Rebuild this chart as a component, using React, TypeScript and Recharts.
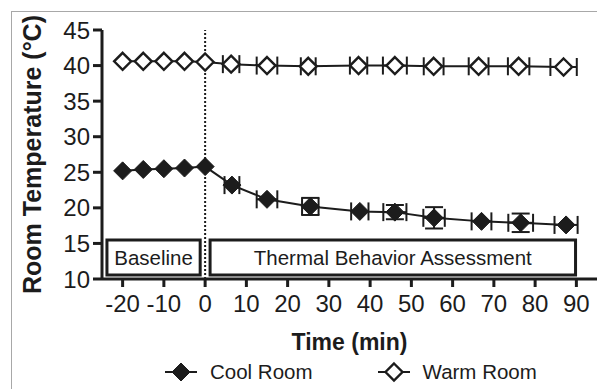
import {
  ScatterChart,
  Scatter,
  XAxis,
  YAxis,
  ErrorBar,
  ReferenceLine,
  ReferenceArea,
  Legend,
} from "recharts";

const FONT = '"Liberation Sans", Arial, sans-serif';
const INK = "#1c1c1c";

// cool room: time (min) with horizontal SEM, temperature with vertical SEM
const coolTime = [-20, -15, -10, -5, 0, 6.5, 15, 25.5, 37.5, 46, 55.5, 67, 76.5, 87.5];
const coolTimeErr = [0, 0, 0, 0, 0, 1.8, 2.5, 2.0, 2.1, 2.8, 2.6, 2.4, 3.0, 2.8];
const coolTemp = [25.2, 25.4, 25.5, 25.6, 25.8, 23.2, 21.2, 20.2, 19.5, 19.4, 18.6, 18.1, 17.9, 17.6];
const coolTempErr = [0, 0, 0, 0, 0, 0, 0, 1.2, 0, 1.0, 1.5, 0, 1.3, 0];

// warm room
const warmTime = [-20, -15, -10, -5, 0, 6.3, 15, 25, 37.2, 46, 55.4, 66.3, 76, 86.9];
const warmTimeErr = [0, 0, 0, 0, 0, 2.0, 2.5, 1.8, 2.1, 2.9, 2.4, 2.4, 2.6, 3.2];
const warmTemp = [40.6, 40.6, 40.6, 40.6, 40.5, 40.2, 40.0, 39.9, 40.0, 40.0, 39.9, 39.9, 39.9, 39.8];

const xTicks = [-20, -10, 0, 10, 20, 30, 40, 50, 60, 70, 80, 90];
const yTicks = [10, 15, 20, 25, 30, 35, 40, 45];

const coolData = coolTime.map((t, i) => ({
  t,
  temp: coolTemp[i],
  tErr: coolTimeErr[i],
  yErr: coolTempErr[i],
}));
const warmData = warmTime.map((t, i) => ({
  t,
  temp: warmTemp[i],
  tErr: warmTimeErr[i],
}));

const R = 9;

function Diamond({ cx, cy, filled }: { cx?: number; cy?: number; filled: boolean }) {
  if (cx == null || cy == null) return null;
  const r = filled ? R : R - 0.5;
  const pts = `${cx},${cy - r} ${cx + r},${cy} ${cx},${cy + r} ${cx - r},${cy}`;
  return (
    <polygon
      points={pts}
      fill={filled ? INK : "#fff"}
      stroke={INK}
      strokeWidth={filled ? 1 : 2.4}
      strokeLinejoin="miter"
    />
  );
}

const legendItems = [
  { name: "Cool Room", filled: true },
  { name: "Warm Room", filled: false },
];

function LegendContent() {
  return (
    <div
      style={{
        display: "flex",
        alignItems: "center",
        height: 30,
        paddingLeft: 164,
        fontFamily: FONT,
        fontSize: 20.5,
        color: INK,
      }}
    >
      {legendItems.map((it, i) => (
        <div
          key={it.name}
          style={{ display: "flex", alignItems: "center", marginLeft: i ? 64 : 0 }}
        >
          <svg width={34} height={24} style={{ marginRight: 12 }}>
            <line x1={1} y1={12} x2={33} y2={12} stroke={INK} strokeWidth={2} />
            <Diamond cx={17} cy={12} filled={it.filled} />
          </svg>
          <span>{it.name}</span>
        </div>
      ))}
    </div>
  );
}

export default function App() {
  return (
    <div
      style={{
        position: "absolute",
        left: 0,
        top: 0,
        width: 597,
        height: 389,
        background: "#fff",
        overflow: "hidden",
      }}
    >
      <div
        style={{
          position: "absolute",
          left: 11,
          top: 11,
          right: -10,
          bottom: -10,
          borderTop: "1.5px solid #a8a8a8",
          borderLeft: "1.5px solid #a8a8a8",
        }}
      />
      <div style={{ position: "absolute", left: 0, top: 0 }}>
        <ScatterChart
          width={597}
          height={389}
          margin={{ top: 30, right: 0, bottom: 4, left: 2 }}
        >
          <XAxis
            type="number"
            dataKey="t"
            domain={[-25, 95]}
            ticks={xTicks}
            allowDataOverflow
            height={76}
            tickSize={8}
            tickMargin={8}
            axisLine={{ stroke: INK, strokeWidth: 3 }}
            tickLine={{ stroke: INK, strokeWidth: 3 }}
            tick={{ fontSize: 24, fill: INK, fontFamily: FONT }}
            label={{
              value: "Time (min)",
              position: "insideBottom",
              offset: 5,
              style: { fontSize: 23, fontWeight: 700, fill: INK, fontFamily: FONT },
            }}
          />
          <YAxis
            type="number"
            dataKey="temp"
            domain={[10, 45]}
            ticks={yTicks}
            allowDataOverflow
            width={100}
            tickSize={9}
            tickMargin={3}
            axisLine={{ stroke: INK, strokeWidth: 3 }}
            tickLine={{ stroke: INK, strokeWidth: 3 }}
            tick={{ fontSize: 24, fill: INK, fontFamily: FONT }}
            label={{
              value: "Room Temperature (°C)",
              angle: -90,
              position: "insideLeft",
              offset: 30,
              style: {
                fontSize: 25,
                fontWeight: 700,
                fill: INK,
                fontFamily: FONT,
                textAnchor: "middle",
              },
            }}
          />
          <ReferenceArea
            x1={-23.8}
            x2={-1.2}
            y1={10.56}
            y2={15.48}
            fill="#fff"
            fillOpacity={1}
            stroke={INK}
            strokeWidth={3}
            label={{ value: "Baseline", position: "center", fontSize: 20.5, fill: INK, fontFamily: FONT }}
          />
          <ReferenceArea
            x1={1.2}
            x2={89.8}
            y1={10.56}
            y2={15.48}
            fill="#fff"
            fillOpacity={1}
            stroke={INK}
            strokeWidth={3}
            label={{
              value: "Thermal Behavior Assessment",
              position: "center",
              fontSize: 20.5,
              fill: INK,
              fontFamily: FONT,
            }}
          />
          <ReferenceLine x={0} stroke={INK} strokeWidth={2} strokeDasharray="2 2" />
          <Legend
            verticalAlign="bottom"
            height={30}
            wrapperStyle={{ left: 0, width: 597, bottom: 2 }}
            content={() => <LegendContent />}
          />
          <Scatter
            name="Cool Room"
            data={coolData}
            line={{ stroke: INK, strokeWidth: 2 }}
            shape={(p: any) => <Diamond cx={p.cx} cy={p.cy} filled />}
            isAnimationActive={false}
          >
            <ErrorBar dataKey="tErr" direction="x" width={9} stroke={INK} strokeWidth={2} />
            <ErrorBar dataKey="yErr" direction="y" width={9} stroke={INK} strokeWidth={2} />
          </Scatter>
          <Scatter
            name="Warm Room"
            data={warmData}
            line={{ stroke: INK, strokeWidth: 2 }}
            shape={(p: any) => <Diamond cx={p.cx} cy={p.cy} filled={false} />}
            isAnimationActive={false}
          >
            <ErrorBar dataKey="tErr" direction="x" width={9} stroke={INK} strokeWidth={2} />
          </Scatter>
        </ScatterChart>
      </div>
    </div>
  );
}
